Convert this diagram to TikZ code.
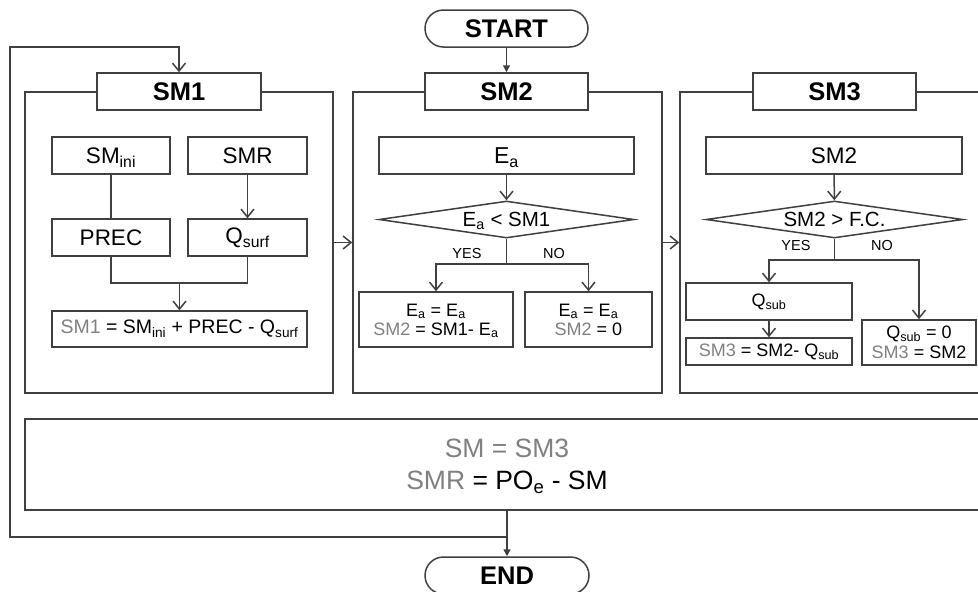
\documentclass[tikz,border=0pt]{standalone}
\usepackage{fontspec}
\setmainfont{Liberation Sans}
\usetikzlibrary{arrows.meta,shapes.geometric}
\definecolor{ln}{HTML}{404040}
\definecolor{gr}{HTML}{808080}
\newcommand\fs[2]{\fontsize{#1}{#2}\selectfont}
\newcommand\sbs[1]{\smash{\textsubscript{#1}}}
\begin{document}
\begin{tikzpicture}[x=1pt,y=-1pt,line width=1.5pt,color=ln,
  every node/.append style={text=black},
  box/.style={draw=ln,fill=white,rectangle,inner sep=0pt},
  outer/.style={box},
  head/.style={box,minimum height=37,font=\fs{25.5}{30}\bfseries},
  term/.style={draw=ln,fill=white,rectangle,rounded corners=18.5pt,inner sep=0pt,
    minimum width=163,minimum height=37,font=\fs{25.5}{30}\bfseries},
  mid/.style={box,minimum height=37,font=\fs{22.5}{26}},
  eq/.style={box,align=center,font=\fs{18}{19}},
  dia/.style={draw=ln,fill=white,diamond,inner sep=0pt,aspect=6.9,
    minimum height=37,font=\fs{20.5}{24}},
  lab/.style={inner sep=0pt,font=\fs{14.5}{16}},
  arr/.style={-{Straight Barb[length=8pt,width=13pt]}},
  farr/.style={-{Triangle[length=7pt,width=7pt]}}]
\useasboundingbox (0,0) rectangle (978,592);
\clip (0,0) rectangle (978,592);

% three sub-model frames
\node[outer,minimum width=308,minimum height=301] (o1) at (179,242.5) {};
\node[outer,minimum width=309,minimum height=301] (o2) at (507.5,242.5) {};
\node[outer,minimum width=320,minimum height=301] (o3) at (840,242.5) {};

% frame titles
\node[head,minimum width=164] (h1) at (179,91.5) {SM1};
\node[head,minimum width=163] (h2) at (506.5,91.5) {SM2};
\node[head,minimum width=163] (h3) at (834.5,91.5) {SM3};

% terminals
\node[term] (start) at (506.5,28.5) {START};
\node[term,minimum width=164] (end) at (507,575.5) {END};
\draw[farr] (start.south) -- (h2.north);

% SM1
\node[mid,minimum width=118] (ini) at (111,155.5) {SM\sbs{ini}};
\node[mid,minimum width=119] (smr) at (247.5,155.5) {SMR};
\node[mid,minimum width=118] (prec) at (111,237.5) {PREC};
\node[mid,minimum width=119] (qsurf) at (247.5,237.5) {Q\sbs{surf}};
\node[box,minimum width=255,minimum height=36,font=\fs{19.5}{22}] (eq1) at (179.5,329)
  {\textcolor{gr}{SM1} = SM\sbs{ini} + PREC - Q\sbs{surf}};
\coordinate (j0) at (179.5,283);
\draw (ini) -- (prec);
\draw[arr] (smr) -- (qsurf);
\draw (prec.south) |- (j0) -| (qsurf.south);
\draw[arr] (j0) -- (eq1);

% SM2
\node[mid,minimum width=255,font=\fs{23}{26}] (ea) at (506.5,155.5) {E\sbs{a}};
\node[dia,minimum width=255] (d1) at (506.5,219.5) {E\sbs{a} < SM1};
\coordinate (j1) at (506.5,264);
\node[lab] (yes1) at (467,254) {YES};
\node[lab] (no1) at (554,254) {NO};
\node[eq,minimum width=154,minimum height=55] (b1) at (436,319.5)
  {E\sbs{a} = E\sbs{a}\\\textcolor{gr}{SM2} = SM1- E\sbs{a}};
\node[eq,minimum width=127,minimum height=55] (b2) at (588.5,319.5)
  {E\sbs{a} = E\sbs{a}\\\textcolor{gr}{SM2} = 0};
\draw[arr] (ea) -- (d1);
\draw (d1.south) -- (j1);
\draw[arr] (j1) -| (b1.north);
\draw[arr] (j1) -| (b2.north);

% SM3
\node[mid,minimum width=256,font=\fs{22.5}{26}] (sm2b) at (834,155.5) {SM2};
\node[dia,minimum width=257] (d2) at (834.5,219.5) {SM2 > F.C.};
\coordinate (j2) at (834.5,260);
\node[lab] (yes2) at (796,246) {YES};
\node[lab] (no2) at (882,246) {NO};
\node[box,minimum width=166,minimum height=37,font=\fs{18}{20}] (qsub) at (769,301.5) {Q\sbs{sub}};
\node[box,minimum width=166,minimum height=27,font=\fs{18}{20}] (eq3) at (769,351.5)
  {\textcolor{gr}{SM3} = SM2- Q\sbs{sub}};
\node[eq,minimum width=114,minimum height=45,font=\fs{18}{20}] (r3) at (919,342.5)
  {Q\sbs{sub} = 0\\\textcolor{gr}{SM3} = SM2};
\draw[arr] (sm2b) -- (d2);
\draw (d2.south) -- (j2);
\draw[arr] (j2) -| (qsub.north);
\draw[arr] (j2) -| (r3.north);
\draw[arr] (qsub) -- (eq3);

% hand-over between frames
\draw[arr] (o1.east) -- (o2.west);
\draw[arr] (o2.east) -- (o3.west);

% update of the state
\node[box,minimum width=964,minimum height=91,align=center,font=\fs{26.5}{32}] (bot) at (507,464.5)
  {\textcolor{gr}{SM = SM3}\\\textcolor{gr}{SMR} = PO\sbs{e} - SM};

% loop back to SM1 and exit
\coordinate (lp) at (507,537);
\coordinate (c1) at (10,537);
\coordinate (c2) at (10,47);
\draw[farr] (bot.south) -- (end.north);
\draw[arr] (lp) -- (c1) -- (c2) -| (h1.north);
\end{tikzpicture}
\end{document}
